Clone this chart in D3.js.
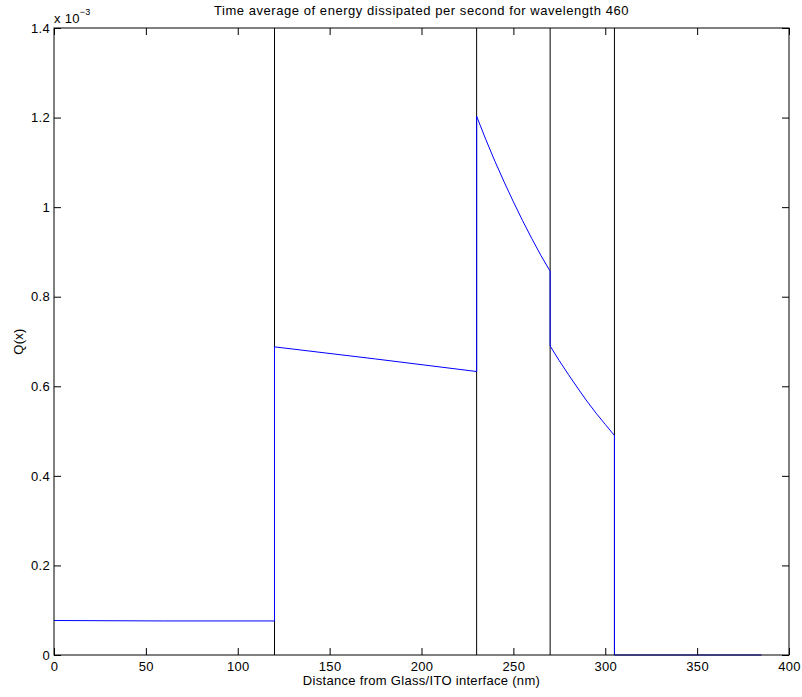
<!DOCTYPE html>
<html>
<head>
<meta charset="utf-8">
<script src="https://cdn.jsdelivr.net/npm/d3@7"></script>
<style>
  body { margin: 0; background: #fff; }
  svg text { font-family: "Liberation Sans", Arial, sans-serif; font-size: 13px; letter-spacing: 0.3px; fill: #000; }
  svg text.title { letter-spacing: 0.55px; }
</style>
</head>
<body>
<svg id="chart" width="802" height="697"></svg>
<script>
// distance (nm) and Q(x) in units of 1e-3
var distance = [0, 60, 120, 120, 175, 230,
                230, 235, 240, 245, 250, 255, 260, 265, 270,
                270, 275, 280, 285, 290, 295, 300, 305,
                305, 345, 385];
var qValues  = [0.077, 0.076, 0.076, 0.688, 0.661, 0.633,
                1.203, 1.151, 1.102, 1.056, 1.012, 0.970, 0.930, 0.892, 0.857,
                0.690, 0.657, 0.626, 0.596, 0.567, 0.540, 0.515, 0.490,
                0, 0, 0];
// layer interfaces
var interfaces = [120, 230, 270, 305];
var xTicks = [0, 50, 100, 150, 200, 250, 300, 350, 400];
var yTicks = [0, 0.2, 0.4, 0.6, 0.8, 1, 1.2, 1.4];

var margin = {top: 28, right: 13, bottom: 42, left: 54};
var svg1 = d3.select("#chart"),
    width = +svg1.attr("width") - margin.left - margin.right,
    height = +svg1.attr("height") - margin.top - margin.bottom;
var svg = svg1.append("g").attr("transform", "translate(" + margin.left + "," + margin.top + ")");

var x = d3.scaleLinear().domain([0, 400]).range([0, width]),
    y = d3.scaleLinear().domain([0, 1.4]).range([height, 0]);

// interface lines
svg.selectAll(".iface")
  .data(interfaces)
  .enter().append("line")
  .attr("class", "iface")
  .attr("x1", function(d) { return x(d); })
  .attr("x2", function(d) { return x(d); })
  .attr("y1", 0)
  .attr("y2", height)
  .attr("stroke", "#000")
  .attr("stroke-width", 1);

var line = d3.line()
  .x(function(d, i) { return x(distance[i]); })
  .y(function(d) { return y(d); });

svg.append("path")
  .datum(qValues)
  .attr("d", line)
  .attr("fill", "none")
  .attr("stroke", "#0000ff")
  .attr("stroke-width", 1);

// axes, matlab style ticks inside
function styleAxis(g) {
  g.select(".domain").remove();
  g.selectAll("line").attr("stroke", "#000");
  g.selectAll("text").style("font-family", "Liberation Sans, Arial, sans-serif").style("font-size", "13px");
}
svg.append("g")
  .attr("transform", "translate(0," + height + ")")
  .call(d3.axisBottom(x).tickValues(xTicks).tickSizeInner(-7).tickSizeOuter(0).tickPadding(7).tickFormat(d3.format("d")))
  .call(styleAxis);
svg.append("g")
  .call(d3.axisTop(x).tickValues(xTicks).tickSizeInner(-7).tickSizeOuter(0).tickFormat(""))
  .call(styleAxis);
svg.append("g")
  .call(d3.axisLeft(y).tickValues(yTicks).tickSizeInner(-7).tickSizeOuter(0).tickPadding(4).tickFormat(function(d) { return d === 0 ? "0" : d3.format("")(+d.toFixed(1)); }))
  .call(styleAxis);
svg.append("g")
  .attr("transform", "translate(" + width + ",0)")
  .call(d3.axisRight(y).tickValues(yTicks).tickSizeInner(-7).tickSizeOuter(0).tickFormat(""))
  .call(styleAxis);

svg.append("rect")
  .attr("width", width)
  .attr("height", height)
  .attr("fill", "none")
  .attr("stroke", "#000")
  .attr("stroke-width", 1);

// exponent label
var ex = svg.append("text").attr("x", 0).attr("y", -5);
ex.append("tspan").text("x 10");
ex.append("tspan").attr("dy", -8).style("font-size", "9px").text("\u22123");

svg1.append("text")
  .attr("class", "title")
  .attr("x", margin.left + width / 2)
  .attr("y", 15)
  .attr("text-anchor", "middle")
  .text("Time average of energy dissipated per second for wavelength 460");

svg1.append("text")
  .attr("x", margin.left + width / 2)
  .attr("y", 685)
  .attr("text-anchor", "middle")
  .text("Distance from Glass/ITO interface (nm)");

svg1.append("text")
  .attr("transform", "translate(23," + (margin.top + height / 2) + ") rotate(-90)")
  .attr("text-anchor", "middle")
  .text("Q(x)");
</script>
</body>
</html>
